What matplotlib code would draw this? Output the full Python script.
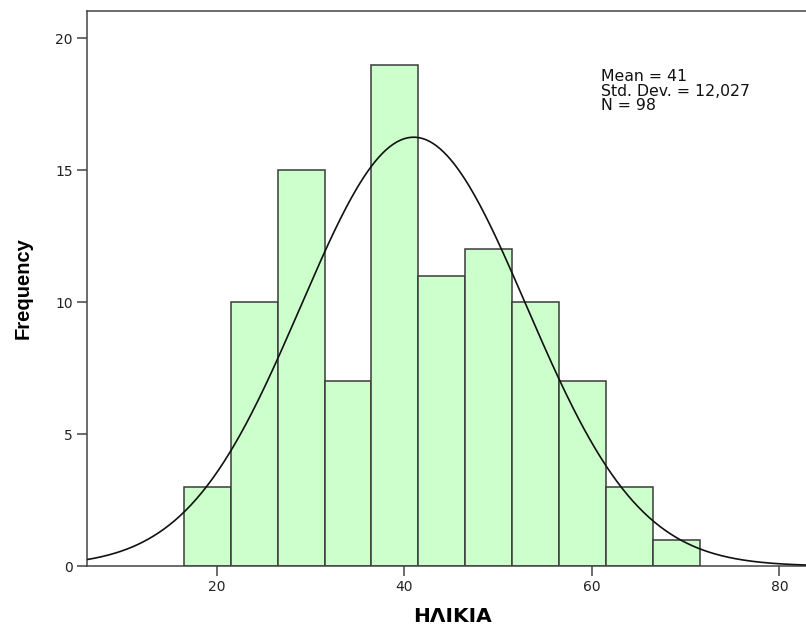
import numpy as np
import matplotlib
matplotlib.use("Agg")
import matplotlib.pyplot as plt

# histogram data (age)
bin_edges = [16.5, 21.5, 26.5, 31.5, 36.5, 41.5, 46.5, 51.5, 56.5, 61.5, 66.5, 71.5]
counts = [3, 10, 15, 7, 19, 11, 12, 10, 7, 3, 1]
mean = 41
std_dev = 12.027
n_total = 98
x_ticks = [20, 40, 60, 80]
y_ticks = [0, 5, 10, 15, 20]

plt.rcParams['font.family'] = ['DejaVu Sans']

fig = plt.figure(figsize=(8.06, 6.26), dpi=100)
ax = fig.add_axes([0.1076, 0.0958, 1.0 - 0.1076, 0.983 - 0.0958])

bin_width = bin_edges[1] - bin_edges[0]
ax.bar(bin_edges[:-1], counts, width=bin_width, align='edge',
       color='#ccffcc', edgecolor='#3a3a3a', linewidth=1.1, zorder=2)

# fitted normal curve scaled to counts
xmin, xmax = 6.14, 82.83
xs = np.linspace(xmin, xmax, 400)
ys = n_total * bin_width / (std_dev * np.sqrt(2 * np.pi)) * np.exp(-0.5 * ((xs - mean) / std_dev) ** 2)
ax.plot(xs, ys, color='#111111', linewidth=1.2, zorder=3)

ax.set_xlim(xmin, xmax)
ax.set_ylim(0, 21.05)
ax.set_xticks(x_ticks)
ax.set_yticks(y_ticks)
ax.tick_params(axis='both', length=7, width=1.1, color='#444444', pad=3,
               labelsize=10, labelcolor='#222222')

for side in ['left', 'bottom', 'top']:
    ax.spines[side].set_color('#444444')
    ax.spines[side].set_linewidth(1.1)
ax.spines['right'].set_visible(False)

ax.set_ylabel('Frequency', fontsize=14.5, fontweight='bold',
              family=['Liberation Sans', 'DejaVu Sans'])
ax.yaxis.set_label_coords(-0.075, 0.5)
ax.set_xlabel('ΗΛΙΚΙΑ', fontsize=14.5, fontweight='bold')
ax.xaxis.set_label_coords(0.509, -0.073)

fig.text(601 / 806, 1 - 69 / 626,
         'Mean = 41\nStd. Dev. = 12,027\nN = 98',
         fontsize=11.3, va='top', ha='left', linespacing=0.97, color='#111111')

fig.savefig('out.png', dpi=100)
